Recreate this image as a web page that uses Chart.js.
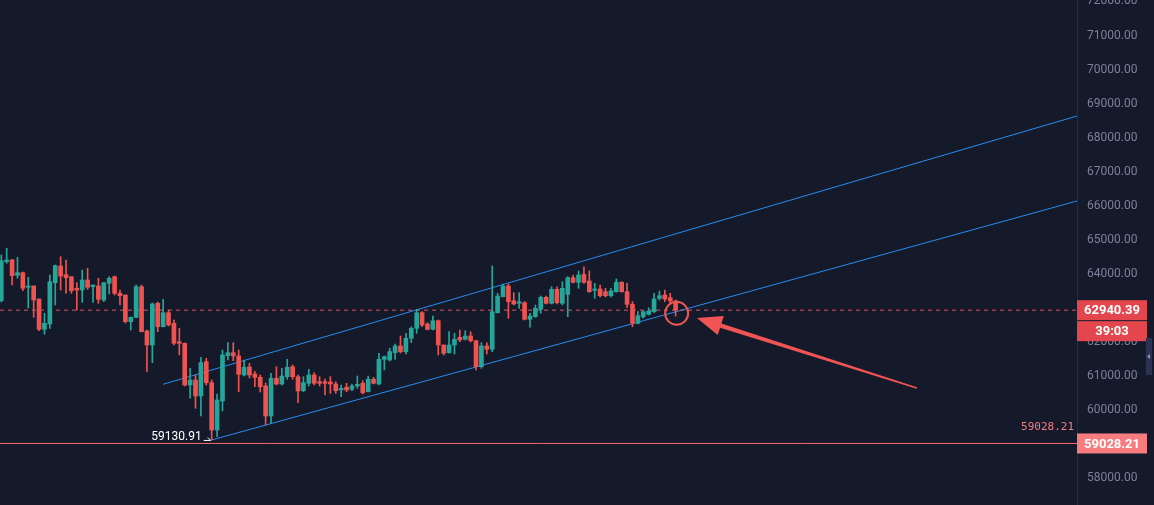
<!DOCTYPE html>
<html>
<head>
<meta charset="utf-8">
<script src="https://cdn.jsdelivr.net/npm/chart.js@4.4.1/dist/chart.umd.min.js"></script>
<style>
  html, body { margin: 0; padding: 0; background: #151a2b; }
  #wrap { width: 1154px; height: 505px; }
  canvas { display: block; }
</style>
</head>
<body>
<div id="wrap"><canvas id="chart" width="1154" height="505"></canvas></div>
<script>
// candles, oldest first (one per bar)
const open = [
  63218, 64363, 64413, 63964, 64040, 63612, 63650, 63268, 62379, 62535,
  63747, 64237, 63982, 63923, 63582, 63532, 63826, 63629, 63650, 63239,
  63729, 63923, 63436, 63386, 62602, 62731, 63629, 62329, 61918, 63142,
  62455, 62866, 62555, 62015, 61968, 60744, 60891, 60421, 61428, 60812,
  59423, 60275, 61604, 61692, 61595, 61038, 61273, 61067, 60970, 60715,
  59834, 60941, 60774, 60988, 61281, 60988, 60577, 60794, 61038, 60841,
  60841, 60832, 60774, 60597, 60677, 60618, 60715, 60794, 60547, 60912,
  60774, 61498, 61478, 61692, 61889, 61722, 62115, 62408, 62866, 62535,
  62379, 62631, 61918, 61692, 61918, 62144, 62086, 62182, 62045, 61281,
  61889, 61792, 62866, 63336, 63650, 63218, 63142, 63160, 62673, 62749,
  62966, 63318, 63142, 63553, 63142, 63406, 63894, 63758, 63993, 63797,
  63524, 63562, 63483, 63365, 63483, 63758, 63483, 63113, 62555, 62749,
  62819, 62896, 63289, 63386, 63306, 63210
];
const close = [
  64392, 64413, 63952, 64040, 63582, 63650, 63239, 62379, 62555, 63776,
  64246, 63943, 63894, 63512, 63532, 63826, 63612, 63679, 63260, 63747,
  63876, 63436, 63365, 62602, 62731, 63629, 62309, 61918, 63122, 62455,
  62866, 62505, 61968, 61968, 60744, 60891, 60421, 61399, 60812, 59423,
  60304, 61625, 61692, 61595, 61058, 61264, 61038, 60970, 60694, 59834,
  60941, 60774, 61008, 61264, 60988, 60568, 60812, 61038, 60794, 60794,
  60794, 60774, 60577, 60647, 60597, 60715, 60765, 60518, 60912, 60794,
  61498, 61575, 61722, 61889, 61722, 62115, 62408, 62866, 62505, 62379,
  62631, 61918, 61675, 61918, 62086, 62065, 62182, 62045, 61281, 61889,
  61792, 62896, 63356, 63650, 63189, 63122, 63189, 62673, 62769, 62995,
  63318, 63142, 63553, 63160, 63582, 63894, 63758, 63973, 63758, 63483,
  63562, 63365, 63365, 63503, 63758, 63483, 63113, 62555, 62778, 62896,
  62916, 63268, 63365, 63268, 63210, 62940.39
];
const high = [
  64560, 64756, 64430, 64492, 64061, 63905, 63650, 63268, 62849, 63973,
  64266, 64510, 64413, 63923, 63747, 64119, 64169, 63679, 63876, 63747,
  63923, 63943, 63532, 63386, 62740, 63679, 63679, 62358, 63151, 63180,
  63260, 62945, 62652, 62408, 61977, 61234, 61038, 61557, 61528, 60891,
  60480, 61771, 61986, 61986, 61771, 61478, 61381, 61135, 61038, 60803,
  61088, 61281, 61234, 61498, 61331, 61038, 60988, 61205, 61105, 60988,
  60920, 60988, 60841, 60744, 60794, 60774, 61008, 60870, 61008, 60970,
  61675, 61595, 61821, 61948, 62182, 62262, 62455, 62966, 62896, 62573,
  62769, 62652, 61918, 62309, 62262, 62358, 62338, 62309, 62045, 61986,
  61986, 64237, 63436, 63709, 63709, 63453, 63453, 63189, 62849, 63092,
  63356, 63356, 63629, 63629, 63776, 63923, 63973, 64090, 64216, 64090,
  63729, 63679, 63582, 63582, 63855, 63776, 63729, 63189, 62896, 62916,
  63013, 63436, 63503, 63532, 63436, 63239
];
const low = [
  63180, 64316, 63679, 63876, 63512, 63004, 62731, 62338, 62232, 62408,
  63092, 63532, 63436, 63436, 62945, 63171, 63553, 63171, 63142, 63189,
  63415, 63386, 63092, 62564, 62358, 62711, 62300, 61135, 61399, 62309,
  62447, 62476, 61918, 61625, 60715, 60354, 60060, 59834, 60744, 59130.91,
  59227, 59981, 61478, 61457, 60547, 61008, 60950, 60694, 60539, 59570,
  59620, 60744, 60744, 60912, 60912, 60225, 60547, 60715, 60744, 60715,
  60451, 60500, 60500, 60401, 60547, 60577, 60647, 60480, 60539, 60774,
  60744, 61184, 61449, 61498, 61683, 61654, 61986, 62262, 62455, 62358,
  62358, 61625, 61625, 61675, 61654, 62015, 62065, 62006, 61184, 61234,
  61654, 61722, 62857, 63327, 62702, 63092, 62995, 62652, 62438, 62731,
  62849, 63122, 63122, 63122, 63092, 62749, 63737, 63582, 63729, 63465,
  63289, 63327, 63327, 63327, 63465, 63465, 63013, 62455, 62535, 62702,
  62799, 62866, 63239, 63189, 63142, 62769
];

const yTicks = [58000, 59000, 60000, 61000, 62000, 63000, 64000, 65000,
  66000, 67000, 68000, 69000, 70000, 71000, 72000];
const xRange = [-0.24, 199.4];
const yRange = [57222, 72044];

// drawn channel (bar index, price)
const upperX = [30, 199.4];
const upperY = [60765, 68639];
const lowerX = [39, 199.4];
const lowerY = [59130.91, 66145];

const lastPrice = 62940.39;
const countdown = '39:03';
const supportPrice = 59028.21;
const lowMarkIndex = 39;
const lowMarkPrice = 59130.91;
const circleAt = [125, 62850];
const arrowFrom = [169.7, 60656];
const arrowTo = [128.95, 62711];

const UP = '#26a69a';
const DOWN = '#ef5350';

const idx = open.map((_, i) => i);
const colors = idx.map((i) => (close[i] >= open[i] ? UP : DOWN));

const overlay = {
  id: 'overlay',
  afterDraw(chart) {
    const { ctx, scales: { x, y } } = chart;
    const axisLeft = y.left;
    ctx.save();

    // circle around the last candle
    ctx.strokeStyle = '#f0564f';
    ctx.lineWidth = 2;
    ctx.beginPath();
    ctx.arc(x.getPixelForValue(circleAt[0]) + 1, y.getPixelForValue(circleAt[1]), 11.5, 0, Math.PI * 2);
    ctx.stroke();

    // big arrow pointing at it
    const x0 = x.getPixelForValue(arrowFrom[0]), y0 = y.getPixelForValue(arrowFrom[1]);
    const x1 = x.getPixelForValue(arrowTo[0]), y1 = y.getPixelForValue(arrowTo[1]);
    const len = Math.hypot(x1 - x0, y1 - y0);
    const ux = (x1 - x0) / len, uy = (y1 - y0) / len;
    const nx = -uy, ny = ux;
    const headLen = 25, headW = 10;
    const bx = x1 - ux * headLen, by = y1 - uy * headLen;
    ctx.fillStyle = '#f05454';
    ctx.beginPath();
    ctx.moveTo(x0 + nx * 0.8, y0 + ny * 0.8);
    ctx.lineTo(bx + nx * 2.2, by + ny * 2.2);
    ctx.lineTo(bx + nx * headW, by + ny * headW);
    ctx.lineTo(x1, y1);
    ctx.lineTo(bx - nx * headW, by - ny * headW);
    ctx.lineTo(bx - nx * 2.2, by - ny * 2.2);
    ctx.lineTo(x0 - nx * 0.8, y0 - ny * 0.8);
    ctx.closePath();
    ctx.fill();

    // low marker text
    const lx = x.getPixelForValue(lowMarkIndex);
    const ly = y.getPixelForValue(lowMarkPrice);
    ctx.fillStyle = '#ffffff';
    ctx.font = '12px Roboto, sans-serif';
    ctx.textAlign = 'right';
    ctx.textBaseline = 'middle';
    ctx.fillText(lowMarkPrice.toFixed(2), lx - 10, ly - 3);
    ctx.strokeStyle = '#ffffff';
    ctx.lineWidth = 1;
    ctx.beginPath();
    ctx.moveTo(lx - 8, ly + 0.5);
    ctx.lineTo(lx - 1, ly + 0.5);
    ctx.moveTo(lx - 4, ly - 2.5);
    ctx.lineTo(lx - 1, ly + 0.5);
    ctx.stroke();

    // support text above its line
    const sy = y.getPixelForValue(supportPrice);
    ctx.fillStyle = '#f77c80';
    ctx.font = '11px "DejaVu Sans Mono", monospace';
    ctx.textAlign = 'right';
    ctx.fillText(supportPrice.toFixed(2), axisLeft - 3, sy - 16);

    // axis labels
    const box = (cy, bg, text) => {
      ctx.fillStyle = bg;
      ctx.fillRect(axisLeft, cy - 10, 70, 20);
      ctx.fillStyle = '#ffffff';
      ctx.font = 'bold 13px Roboto, sans-serif';
      ctx.textAlign = 'center';
      ctx.textBaseline = 'middle';
      ctx.fillText(text, axisLeft + 35, cy + 1);
    };
    const py = y.getPixelForValue(lastPrice);
    box(py, '#e3464d', lastPrice.toFixed(2));
    box(py + 21, '#e3464d', countdown);
    box(sy, '#f77c80', supportPrice.toFixed(2));

    // collapse tab on the right edge
    ctx.fillStyle = '#2c3352';
    ctx.fillRect(1146, 338, 6, 37);
    ctx.fillStyle = '#8d95b2';
    ctx.beginPath();
    ctx.moveTo(1147, 356.5);
    ctx.lineTo(1150, 354);
    ctx.lineTo(1150, 359);
    ctx.closePath();
    ctx.fill();

    ctx.restore();
  },
};

const lineDs = (xs, ys, color, dash) => ({
  type: 'line',
  data: xs.map((v, i) => ({ x: v, y: ys[i] })),
  borderColor: color,
  backgroundColor: color,
  borderWidth: 1,
  borderDash: dash || [],
  pointRadius: 0,
  fill: false,
  tension: 0,
});

new Chart(document.getElementById('chart').getContext('2d'), {
  type: 'bar',
  data: {
    datasets: [
      {
        label: 'wick',
        data: idx.map((i) => ({ x: i, y: [low[i], high[i]] })),
        backgroundColor: colors,
        barThickness: 1,
        grouped: false,
        borderWidth: 0,
      },
      {
        label: 'body',
        data: idx.map((i) => ({ x: i, y: [open[i], close[i]] })),
        backgroundColor: colors,
        barThickness: 4,
        minBarLength: 1,
        grouped: false,
        borderWidth: 0,
      },
      lineDs(xRange, [lastPrice, lastPrice], '#e0555f', [4, 4]),
      lineDs(xRange, [supportPrice, supportPrice], '#f56a70'),
      lineDs(upperX, upperY, '#2a8cf0'),
      lineDs(lowerX, lowerY, '#2a8cf0'),
    ],
  },
  options: {
    responsive: false,
    devicePixelRatio: 1,
    animation: false,
    events: [],
    layout: { padding: 0 },
    plugins: {
      legend: { display: false },
      tooltip: { enabled: false },
    },
    scales: {
      x: {
        type: 'linear',
        min: xRange[0],
        max: xRange[1],
        display: false,
        offset: false,
      },
      y: {
        position: 'right',
        min: yRange[0],
        max: yRange[1],
        afterBuildTicks: (axis) => {
          axis.ticks = yTicks.map((v) => ({ value: v }));
        },
        afterFit: (axis) => {
          axis.width = 77;
          axis.paddingTop = 0;
          axis.paddingBottom = 0;
        },
        grid: { display: false, drawTicks: false },
        border: { display: true, color: '#262b3d' },
        ticks: {
          color: '#7a8098',
          font: { family: 'Roboto', size: 12 },
          padding: 10,
          crossAlign: 'near',
          callback: (v) => Number(v).toFixed(2),
        },
      },
    },
  },
  plugins: [overlay],
});
</script>
</body>
</html>
